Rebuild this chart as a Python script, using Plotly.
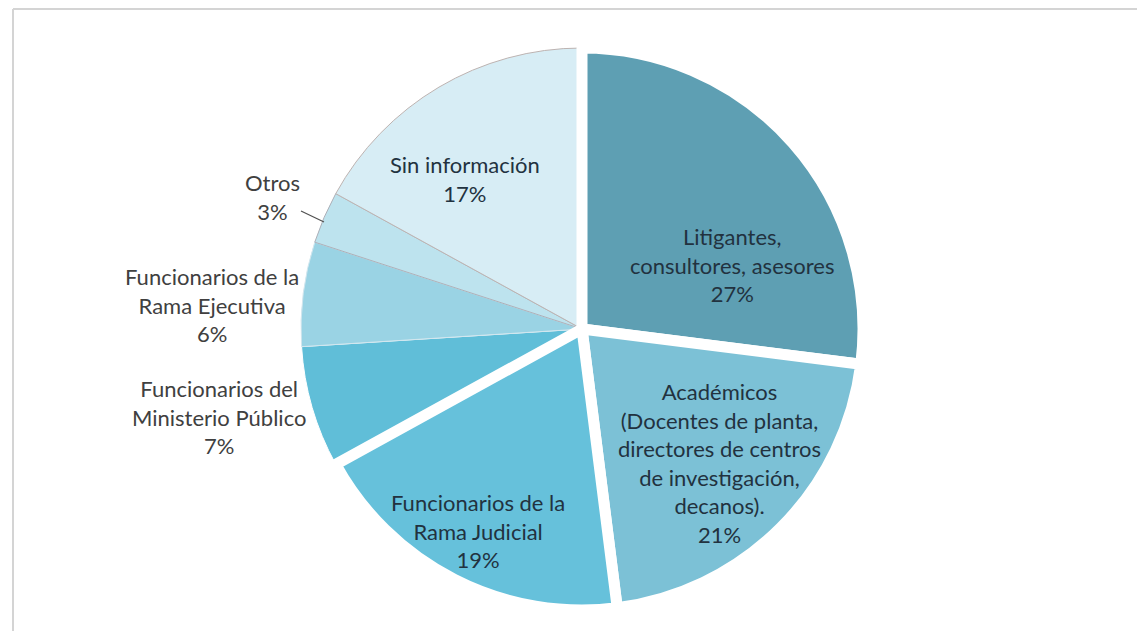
import plotly.graph_objects as go

# Data (clockwise from the "Funcionarios del Ministerio Público" slice)
labels = [
    "Funcionarios del<br>Ministerio Público",
    "Funcionarios de la<br>Rama Ejecutiva",
    "Otros",
    "Sin información",
    "Litigantes,<br>consultores, asesores",
    "Académicos<br>(Docentes de planta,<br>directores de centros<br>de investigación,<br>decanos).",
    "Funcionarios de la<br>Rama Judicial",
]
values = [7, 6, 3, 17, 27, 21, 19]

colors = ["#60bed8", "#9ad3e4", "#bde3ee", "#d7edf5", "#5e9fb3", "#7cc1d6", "#66c1db"]
line_colors = ["#ffffff", "#d2e6ee", "#aeb0b8", "#bdb3b1", "#ffffff", "#ffffff", "#ffffff"]
line_widths = [1, 1, 1, 1, 11, 11, 11]

# label placement (screen pixels of the label centre) and style
label_xy = [(219, 417), (212, 305), (272, 197), (465, 179), (732, 265), (719, 463), (478, 531)]
label_inside = [False, False, False, True, True, True, True]

W, H = 1145, 631
OFF = 8  # page body offset
cx, cy, R = 574, 321, 281

fig = go.Figure()
fig.add_trace(go.Pie(
    labels=labels,
    values=values,
    sort=False,
    direction="clockwise",
    rotation=241.2,
    marker=dict(colors=colors, line=dict(color=line_colors, width=line_widths)),
    textinfo="none",
    showlegend=False,
    hoverinfo="label+percent",
    domain=dict(x=[(cx - R) / W, (cx + R) / W],
                y=[(H - cy - R) / H, (H - cy + R) / H]),
))

total = sum(values)
annotations = []
for lab, val, (sx, sy), inside in zip(labels, values, label_xy, label_inside):
    pct = round(100 * val / total)
    txt = f"{lab}<br>{pct}%"
    ann = dict(
        text=txt, xref="paper", yref="paper",
        x=(sx - OFF) / W, y=1 - (sy - OFF) / H,
        xanchor="center", yanchor="middle", align="center",
        showarrow=False,
        font=dict(family="Lato", size=22, color="#22323f" if inside else "#404040"),
    )
    if lab == "Otros":
        # short leader line from the label to the slice edge
        hx, hy = 324, 222
        ann.update(x=(hx - OFF) / W, y=1 - (hy - OFF) / H,
                   ax=sx - hx, ay=sy - hy, showarrow=True,
                   arrowhead=0, arrowwidth=1.2, arrowcolor="#505050",
                   xanchor="center", yanchor="middle")
    annotations.append(ann)

fig.update_layout(
    width=W,
    height=H,
    margin=dict(l=0, r=0, t=0, b=0),
    paper_bgcolor="white",
    plot_bgcolor="white",
    font=dict(family="Lato", size=22),
    annotations=annotations,
    shapes=[
        dict(type="line", xref="paper", yref="paper",
             x0=5 / W, x1=1, y0=1 - 1 / H, y1=1 - 1 / H,
             line=dict(color="#d4d4d4", width=2)),
        dict(type="line", xref="paper", yref="paper",
             x0=5 / W, x1=5 / W, y0=0, y1=1 - 1 / H,
             line=dict(color="#d4d4d4", width=2)),
    ],
)

fig.write_html("out.html")
